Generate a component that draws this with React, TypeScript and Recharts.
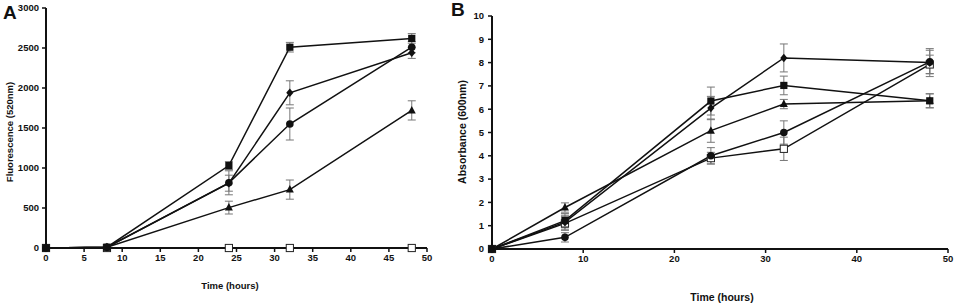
import React from "react"
import { LineChart, Line, XAxis, YAxis, ErrorBar } from "recharts"

const hours = [0, 8, 24, 32, 48]

// panel A: fluorescence (520nm)
const fluoSquare = [0, 10, 1030, 2510, 2620]
const fluoDiamond = [0, 10, 810, 1940, 2440]
const fluoCircle = [0, 10, 815, 1550, 2510]
const fluoTriangle = [0, 10, 505, 730, 1720]
const fluoOpen = [0, 0, 0, 0, 0]
const fluoSquareErr = [0, 10, 50, 60, 60]
const fluoDiamondErr = [0, 10, 100, 150, 70]
const fluoCircleErr = [0, 10, 150, 200, 70]
const fluoTriangleErr = [0, 10, 80, 120, 120]

// panel B: absorbance (600nm)
const absSquare = [0, 1.22, 6.35, 7.02, 6.36]
const absDiamond = [0, 1.15, 6.05, 8.2, 8.0]
const absCircle = [0, 0.5, 4.0, 5.0, 8.03]
const absTriangle = [0, 1.78, 5.08, 6.22, 6.36]
const absOpen = [0, 1.1, 3.9, 4.3, 7.92]
const absSquareErr = [0, 0.3, 0.6, 0.4, 0.3]
const absDiamondErr = [0, 0.3, 0.5, 0.6, 0.6]
const absCircleErr = [0, 0.2, 0.35, 0.5, 0.5]
const absTriangleErr = [0, 0.2, 0.5, 0.2, 0.3]
const absOpenErr = [0, 0.3, 0.25, 0.5, 0.4]

const fluoTicks = [0, 500, 1000, 1500, 2000, 2500, 3000]
const fluoXTicks = [0, 5, 10, 15, 20, 25, 30, 35, 40, 45, 50]
const absTicks = [0, 1, 2, 3, 4, 5, 6, 7, 8, 9, 10]
const absXTicks = [0, 10, 20, 30, 40, 50]

const fluoData = hours.map((h, i) => ({
  h,
  sq: fluoSquare[i], sqE: fluoSquareErr[i],
  di: fluoDiamond[i], diE: fluoDiamondErr[i],
  ci: fluoCircle[i], ciE: fluoCircleErr[i],
  tr: fluoTriangle[i], trE: fluoTriangleErr[i],
  op: fluoOpen[i],
}))

const absData = hours.map((h, i) => ({
  h,
  sq: absSquare[i], sqE: absSquareErr[i],
  di: absDiamond[i], diE: absDiamondErr[i],
  ci: absCircle[i], ciE: absCircleErr[i],
  tr: absTriangle[i], trE: absTriangleErr[i],
  op: absOpen[i], opE: absOpenErr[i],
}))

const font = "'Liberation Sans', Arial, sans-serif"
const tickStyle = { fontSize: 9.5, fontWeight: 700, fill: "#111", fontFamily: font }

type Shape = "sq" | "di" | "ci" | "tr" | "op"

const marker = (shape: Shape) => (p: any) => {
  const { cx, cy, key } = p
  if (cx == null || cy == null) return <g key={key} />
  const s = 3.6
  if (shape === "sq")
    return <rect key={key} x={cx - s} y={cy - s} width={s * 2} height={s * 2} fill="#111" />
  if (shape === "op")
    return <rect key={key} x={cx - s} y={cy - s} width={s * 2} height={s * 2} fill="#fff" stroke="#222" strokeWidth={1} />
  if (shape === "ci") return <circle key={key} cx={cx} cy={cy} r={3.8} fill="#111" />
  if (shape === "di")
    return <polygon key={key} points={`${cx},${cy - 4.3} ${cx + 3.6},${cy} ${cx},${cy + 4.3} ${cx - 3.6},${cy}`} fill="#111" />
  return <polygon key={key} points={`${cx},${cy - 4.5} ${cx + 4},${cy + 3} ${cx - 4},${cy + 3}`} fill="#111" />
}

const errProps = { width: 4, strokeWidth: 1, stroke: "#777", direction: "y" as const }

function series(key: Shape, withErr: boolean) {
  return (
    <Line
      key={key}
      type="linear"
      dataKey={key}
      stroke="#111"
      strokeWidth={1.5}
      dot={marker(key)}
      activeDot={false}
      isAnimationActive={false}
    >
      {withErr && <ErrorBar dataKey={key + "E"} {...errProps} />}
    </Line>
  )
}

const axisLine = { stroke: "#111", strokeWidth: 2 }
const tickLine = { stroke: "#111", strokeWidth: 1.5 }

const abs = (x: number, y: number, extra: React.CSSProperties = {}): React.CSSProperties => ({
  position: "absolute", left: x, top: y, fontFamily: font, fontWeight: 700, color: "#111", whiteSpace: "nowrap", ...extra,
})

export default function App() {
  return (
    <div style={{ position: "absolute", left: 0, top: 0, width: 957, height: 307, background: "#fff", overflow: "hidden" }}>
      <div style={{ position: "absolute", left: 0, top: 0 }}>
        <LineChart width={470} height={307} data={fluoData} margin={{ top: 8, right: 43, left: 10, bottom: 29 }}>
          <XAxis dataKey="h" type="number" domain={[0, 50]} ticks={fluoXTicks} tick={tickStyle}
            axisLine={axisLine} tickLine={tickLine} tickSize={4} height={30} interval={0} />
          <YAxis type="number" domain={[0, 3000]} ticks={fluoTicks} tick={tickStyle} width={36}
            axisLine={axisLine} tickLine={tickLine} tickSize={4} tickMargin={3} interval={0} />
          {series("op", false)}
          {series("tr", true)}
          {series("ci", true)}
          {series("di", true)}
          {series("sq", true)}
        </LineChart>
      </div>
      <div style={{ position: "absolute", left: 470, top: 0 }}>
        <LineChart width={487} height={307} data={absData} margin={{ top: 16, right: 9, left: 0, bottom: 28 }}>
          <XAxis dataKey="h" type="number" domain={[0, 50]} ticks={absXTicks} tick={tickStyle}
            axisLine={axisLine} tickLine={tickLine} tickSize={4} height={30} interval={0} />
          <YAxis type="number" domain={[0, 10]} ticks={absTicks} tick={tickStyle} width={22}
            axisLine={axisLine} tickLine={tickLine} tickSize={4} tickMargin={4} interval={0} />
          {series("op", true)}
          {series("ci", true)}
          {series("tr", true)}
          {series("di", true)}
          {series("sq", true)}
        </LineChart>
      </div>

      <div style={abs(3, 2, { fontSize: 19 })}>A</div>
      <div style={abs(451, -1, { fontSize: 19 })}>B</div>

      <div style={abs(9, 132, { fontSize: 9.5, transform: "translate(-50%, -50%) rotate(-90deg)" })}>Fluorescence (520nm)</div>
      <div style={abs(462, 132, { fontSize: 10.5, transform: "translate(-50%, -50%) rotate(-90deg)" })}>Absorbance (600nm)</div>

      <div style={abs(230, 285, { fontSize: 9.5, transform: "translate(-50%, -50%)" })}>Time (hours)</div>
      <div style={abs(722, 297, { fontSize: 10.5, transform: "translate(-50%, -50%)" })}>Time (hours)</div>
    </div>
  )
}
